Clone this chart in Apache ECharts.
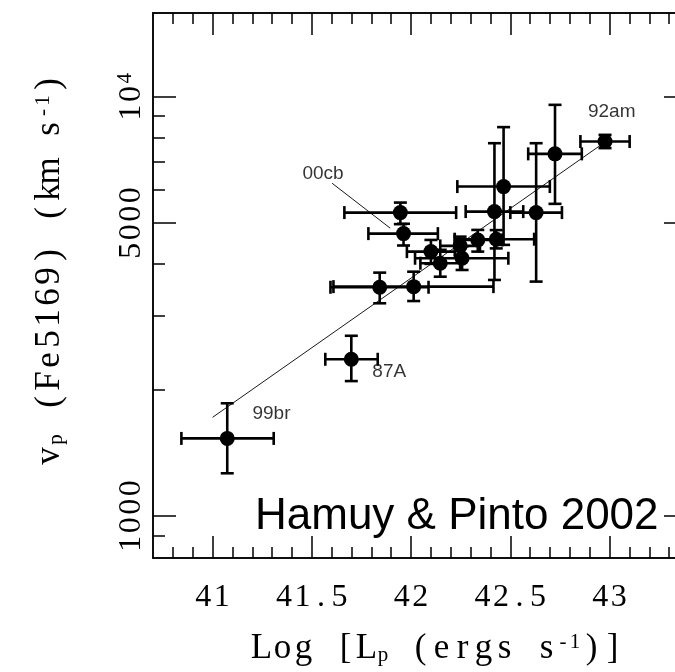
<!DOCTYPE html>
<html>
<head>
<meta charset="utf-8">
<script src="https://cdn.jsdelivr.net/npm/echarts@6/dist/echarts.min.js"></script>
<style>
  html, body { margin: 0; padding: 0; background: #fff; overflow: hidden; }
  /* the frame's right edge sits just past the visible area */
  #chart { width: 700px; height: 672px; }
</style>
</head>
<body>
<div id="chart"></div>
<script>
// Supernova names (blank where the point carries no label)
const snNames = ['99br', '87A', '', '', '', '00cb', '', '', '', '', '', '', '', '', '', '', '92am'];
// log of peak luminosity and its error range
const logLum   = [41.074, 41.699, 41.842, 42.013, 41.946, 41.962, 42.100, 42.147, 42.247, 42.257, 42.336, 42.429, 42.420, 42.466, 42.630, 42.725, 42.977];
const logLumLo = [40.843, 41.568, 41.594, 41.609, 41.664, 41.785, 41.979, 42.047, 42.147, 42.020, 42.220, 42.220, 42.275, 42.233, 42.500, 42.590, 42.853];
const logLumHi = [41.308, 41.832, 42.088, 42.415, 42.227, 42.135, 42.221, 42.247, 42.347, 42.490, 42.460, 42.620, 42.565, 42.699, 42.760, 42.860, 43.101];
// Fe II 5169 expansion velocity (km/s) and its error range
const velocity = [1532, 2366, 3514, 3526, 5296, 4718, 4274, 4010, 4410, 4121, 4557, 4576, 5325, 6109, 5296, 7311, 7823];
const velLo    = [1265, 2099, 3218, 3258, 4970, 4420, 3995, 3724, 4200, 3864, 4274, 4350, 3658, 4435, 3625, 5556, 7545];
const velHi    = [1858, 2692, 3808, 3828, 5595, 4980, 4557, 4316, 4640, 4400, 4815, 4810, 7752, 8468, 7752, 9570, 8116];

// Straight-line fit in log-log space (end points)
const fitLine = [[41.0, 1720], [42.96, 7700]];
// Leader line pointing at SN 2000cb
const leader00cb = [[41.602, 6223], [41.895, 4861]];
// Text labels and their anchor points
const noteText = ['92am', '00cb', '87A', '99br'];
const noteX = [42.891, 41.453, 41.805, 41.201];
const noteY = [9205, 6550, 2206, 1751];

// Axis ticks
const xMajor = [41, 41.5, 42, 42.5, 43];
const xMinor = [40.8, 40.9, 41.1, 41.2, 41.3, 41.4, 41.6, 41.7, 41.8, 41.9, 42.1, 42.2, 42.3, 42.4,
                42.6, 42.7, 42.8, 42.9, 43.1, 43.2, 43.3];
const yMajor = [1000, 5000, 10000];
const yMinor = [900, 2000, 3000, 4000, 6000, 7000, 8000, 9000];

const X_MIN = 40.7, X_MAX = 43.4;
const Y_MIN = Math.pow(10, 2.9), Y_MAX = Math.pow(10, 4.2);

const serif = 'Liberation Serif';
const sans = 'Liberation Sans';
const ink = '#000';

// Fixed-pitch layout: every character becomes its own rich-text token of fixed width
function mono(parts) {
  return parts.map(([txt, st]) => Array.from(txt).map(ch => '{' + st + '|' + ch + '}').join('')).join('');
}

const tickRich = {
  n: { fontFamily: serif, fontSize: 32, width: 18.5, align: 'center', lineHeight: 34, color: ink },
  s: { fontFamily: serif, fontSize: 21, width: 13, align: 'center', lineHeight: 11, verticalAlign: 'top', color: ink }
};
const titleRich = {
  n: { fontFamily: serif, fontSize: 35, width: 21, align: 'center', lineHeight: 34, color: ink },
  b: { fontFamily: serif, fontSize: 21, width: 12, align: 'center', lineHeight: 14, verticalAlign: 'bottom', color: ink },
  t: { fontFamily: serif, fontSize: 21, width: 12, align: 'center', lineHeight: 14, verticalAlign: 'top', color: ink }
};

const xTitle = mono([['Log [L', 'n'], ['p', 'b'], [' (ergs s', 'n'], ['-1', 't'], [')]', 'n']]);
const yTitle = mono([['v', 'n'], ['p', 'b'], [' (Fe5169) (km s', 'n'], ['-1', 't'], [')', 'n']]);

function xTickText(v) { return mono([[String(v), 'n']]); }
function yTickText(v) {
  return Math.abs(v - 10000) < 1 ? mono([['10', 'n'], ['4', 's']]) : mono([[String(Math.round(v)), 'n']]);
}

function xAxisDef(position, ticks, len, withLabels) {
  return {
    type: 'value', position: position, min: X_MIN, max: X_MAX,
    splitLine: { show: false },
    axisLine: { show: true, onZero: false, lineStyle: { color: ink, width: 1.5 } },
    axisTick: { show: true, inside: true, length: len, customValues: ticks, lineStyle: { color: ink, width: 1.5 } },
    axisLabel: withLabels ? {
      show: true, customValues: ticks, margin: 23, color: ink,
      formatter: xTickText, rich: tickRich
    } : { show: false },
    name: withLabels ? xTitle : '',
    nameLocation: 'middle', nameGap: 74,
    nameTextStyle: { color: ink, padding: [0, 0, 0, 32], rich: titleRich }
  };
}

function yAxisDef(position, ticks, len, withLabels) {
  return {
    type: 'log', logBase: 10, position: position, min: Y_MIN, max: Y_MAX,
    splitLine: { show: false },
    minorTick: { show: false },
    axisLine: { show: true, onZero: false, lineStyle: { color: ink, width: 1.5 } },
    axisTick: { show: true, inside: true, length: len, customValues: ticks, lineStyle: { color: ink, width: 1.5 } },
    axisLabel: withLabels ? {
      show: true, customValues: ticks, margin: 4, rotate: 90, color: ink,
      formatter: yTickText, rich: tickRich
    } : { show: false },
    name: withLabels ? yTitle : '',
    nameLocation: 'middle', nameGap: 86, nameRotate: 90,
    nameTextStyle: { color: ink, padding: [0, 0, 0, 31], rich: titleRich }
  };
}

const errData = logLum.map((x, i) => [x, velocity[i], logLumLo[i], logLumHi[i], velLo[i], velHi[i]]);

function renderErrorBar(params, api) {
  const x = api.value(0), y = api.value(1);
  const c = api.coord([x, y]);
  const l = api.coord([api.value(2), y]);
  const r = api.coord([api.value(3), y]);
  const b = api.coord([x, api.value(4)]);
  const t = api.coord([x, api.value(5)]);
  const cap = 6.5;
  const style = { stroke: ink, lineWidth: 2.6, fill: null };
  const seg = (x1, y1, x2, y2) => ({ type: 'line', shape: { x1, y1, x2, y2 }, style });
  return {
    type: 'group',
    children: [
      seg(l[0], c[1], r[0], c[1]),
      seg(l[0], c[1] - cap, l[0], c[1] + cap),
      seg(r[0], c[1] - cap, r[0], c[1] + cap),
      seg(c[0], t[1], c[0], b[1]),
      seg(c[0] - cap, t[1], c[0] + cap, t[1]),
      seg(c[0] - cap, b[1], c[0] + cap, b[1])
    ]
  };
}

const chart = echarts.init(document.getElementById('chart'), null, { renderer: 'canvas' });
chart.setOption({
  animation: false,
  backgroundColor: '#fff',
  grid: { left: 153, top: 13, width: 536, height: 545, containLabel: false, outerBoundsMode: 'none' },
  xAxis: [
    xAxisDef('bottom', xMajor, 22, true),
    xAxisDef('bottom', xMinor, 11, false),
    xAxisDef('top', xMajor, 22, false),
    xAxisDef('top', xMinor, 11, false)
  ],
  yAxis: [
    yAxisDef('left', yMajor, 23, true),
    yAxisDef('left', yMinor, 12, false),
    yAxisDef('right', yMajor, 25, false)
  ],
  graphic: [{
    type: 'text', left: 255, top: 495, silent: true,
    style: { text: 'Hamuy & Pinto 2002', fontFamily: sans, fontSize: 44, fill: ink }
  }],
  series: [
    {
      name: 'fit', type: 'line', xAxisIndex: 0, yAxisIndex: 0,
      data: fitLine, symbol: 'none', silent: true,
      lineStyle: { color: ink, width: 0.9 }
    },
    {
      name: 'leader', type: 'line', xAxisIndex: 0, yAxisIndex: 0,
      data: leader00cb, symbol: 'none', silent: true,
      lineStyle: { color: ink, width: 0.9 }
    },
    {
      name: 'errors', type: 'custom', xAxisIndex: 0, yAxisIndex: 0,
      data: errData, renderItem: renderErrorBar, silent: true,
      encode: { x: [0, 2, 3], y: [1, 4, 5] }
    },
    {
      name: 'SNe', type: 'scatter', xAxisIndex: 0, yAxisIndex: 0,
      data: logLum.map((x, i) => ({ name: snNames[i], value: [x, velocity[i]] })),
      symbol: 'circle', symbolSize: 15, silent: true,
      itemStyle: { color: ink, opacity: 1 }
    },
    {
      name: 'notes', type: 'scatter', xAxisIndex: 0, yAxisIndex: 0,
      data: noteText.map((t, i) => ({ name: t, value: [noteX[i], noteY[i]] })),
      symbolSize: 0, silent: true,
      label: {
        show: true, position: 'right', distance: 0, formatter: p => p.name,
        fontFamily: sans, fontSize: 19, color: ink, align: 'left', verticalAlign: 'middle'
      }
    }
  ]
});
</script>
</body>
</html>
